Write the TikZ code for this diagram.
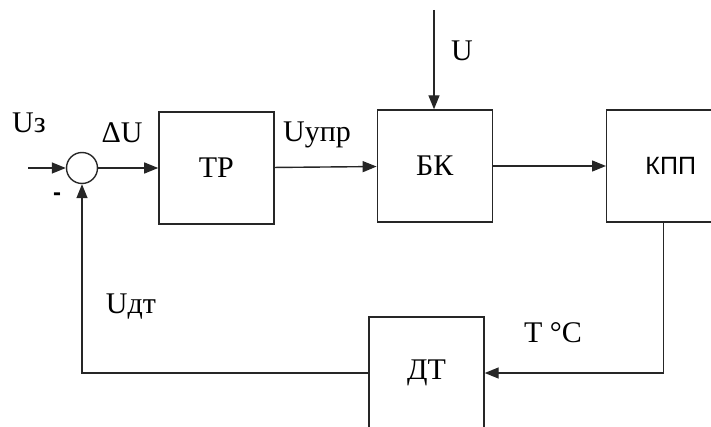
\documentclass[tikz,border=0pt]{standalone}
\usepackage{fontspec}
\setmainfont{Liberation Serif}
\newfontfamily\bloquesans{Liberation Sans}
\usetikzlibrary{positioning,arrows.meta}
\definecolor{Linea}{HTML}{262626}
\tikzset{
  bloque/.style={draw=Linea, line width=1.4pt, minimum width=115pt, minimum height=112pt, inner sep=0pt,
                 font=\fontsize{30pt}{32pt}\selectfont},
  suma/.style={circle, draw=Linea, line width=1.4pt, minimum size=31pt, inner sep=0pt},
  senal/.style={inner sep=0pt, font=\fontsize{30pt}{32pt}\selectfont},
  flecha/.style={line width=1.4pt, color=Linea, -{Triangle[length=14pt,width=11pt]}},
}

\begin{document}
\begin{tikzpicture}[x=1pt, y=-1pt]
    \useasboundingbox (0,0) rectangle (711,427);
    \node[suma] (suma) at (82,168) {};
    \node[bloque, right=60pt of suma] (tr) {ТР};
    \node[bloque, right=102pt of tr, yshift=2pt] (bk) {БК};
    \node[bloque, right=113pt of bk, minimum width=128pt, font=\bloquesans\fontsize{25pt}{27pt}\selectfont] (kpp) {КПП};
    \node[bloque] (dt) at (426.5,373) {ДТ};
    \coordinate (entrada) at (28,168);
    \coordinate (utop) at (434,10);
    % senales
    \node[senal] (uz) at (29,123) {Uз};
    \node[senal] (du) at (122,133) {ΔU};
    \node[senal] (uupr) at (317,135) {Uупр};
    \node[senal] (u) at (462,51) {U};
    \node[senal] (udt) at (131,307) {Uдт};
    \node[senal] (temp) at (553,333) {T °C};
    \node[senal, font=\bloquesans\bfseries\fontsize{24pt}{26pt}\selectfont] (menos) at (57,197) {-};
    \draw[flecha] (entrada) -- (suma); \draw[flecha] (suma) -- (tr); \draw[flecha] (tr) -- (bk); \draw[flecha] (bk) -- (kpp);
    \draw[flecha] (utop) -- (utop |- bk.north);
    \draw[flecha] ([xshift=-7pt]kpp.south) |- (dt);
    \draw[flecha] (dt) -| (suma);
  \end{tikzpicture}
\end{document}
